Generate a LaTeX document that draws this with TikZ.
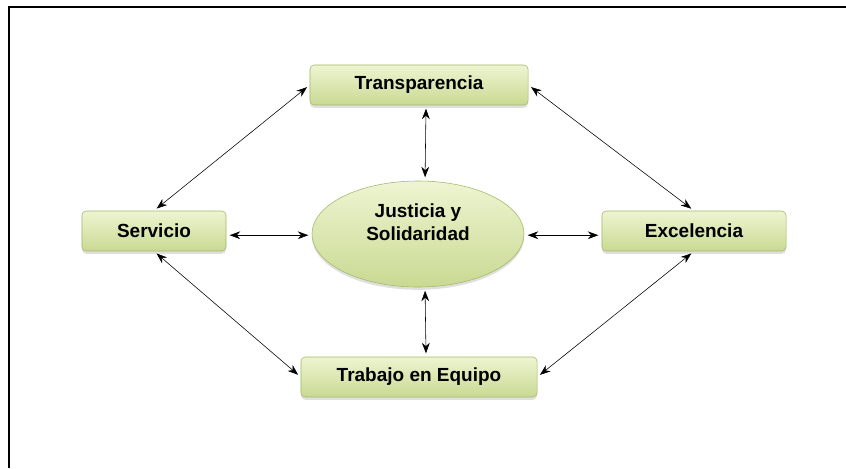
\documentclass[tikz,border=0pt]{standalone}
\usepackage{fontspec}
\setmainfont{Liberation Sans}
\usetikzlibrary{arrows.meta,shadows,shapes.geometric,math}
\definecolor{boxtop}{HTML}{EEF4D2}
\definecolor{boxbot}{HTML}{C9DA92}
\definecolor{boxline}{HTML}{A3B866}
\begin{document}
\begin{tikzpicture}[x=0.025cm,y=-0.025cm]

\tikzmath{
	\H = 1cm;
}

\tikzset{value box/.style={
    draw=boxline,
    rounded corners=3pt,
    top color=boxtop, bottom color=boxbot,
    minimum height=\H,
    minimum width=#1,
    inner sep=0pt,
    font=\fontsize{13.5}{15}\selectfont\bfseries,
    drop shadow={opacity=0.25,shadow xshift=0pt,shadow yshift=-2pt}
  },
  value box/.default=4cm,
  link/.style={{Stealth[length=7.5pt,width=5.5pt]}-{Stealth[length=7.5pt,width=5.5pt]},
    thin, shorten <=6\pgflinewidth, shorten >=6\pgflinewidth}
}

\useasboundingbox (0,0) rectangle (846,468);
\draw[line width=1.2pt] (9,468) -- (9,7) -- (846,7);

\node[value box=5.45cm] (trans) at (419,85) {Transparencia};
\node[value box=3.6cm] (serv) at (154,231) {Servicio};
\node[value box=4.6cm] (exc) at (694,231) {Excelencia};
\node[value box=5.9cm] (trab) at (419,377) {Trabajo en Equipo};
\node[value box, ellipse, minimum width=5.3cm, minimum height=2.65cm,
  align=center] (just) at (418,234) {Justicia y\\[1.5pt]Solidaridad\\[-3pt]\strut};

\draw[link] (trans.west) -- (serv.north);
\draw[link] (trans.east) -- (exc.north);
\draw[link] (serv.south) -- (trab.west);
\draw[link] (exc.south) -- (trab.east);
\draw[link] ([xshift=5]trans.south) -- ([xshift=5]just.north);
\draw[link] ([xshift=5]just.south) -- ([xshift=5]trab.north);
\draw[link] ([yshift=-3]serv.east) -- ([yshift=-3]serv.east -| just.west);
\draw[link] ([yshift=-3]exc.west -| just.east) -- ([yshift=-3]exc.west);

\end{tikzpicture}
\end{document}
